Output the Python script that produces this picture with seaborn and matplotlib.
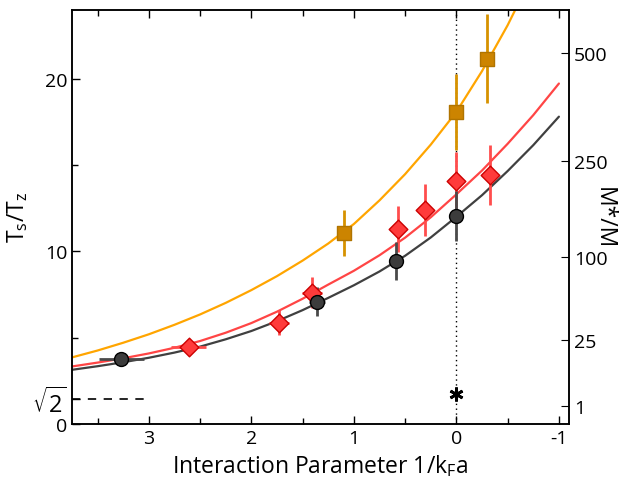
import numpy as np
import matplotlib
matplotlib.use('Agg')
import matplotlib.pyplot as plt
import seaborn as sns

x_gris = [3.27, 1.36, 0.59, 0.0]
y_gris = [3.73, 7.08, 9.44, 12.06]
xerr_gris = [0.22, 0.08, 0.0, 0.0]
yerr_gris = [0.0, 0.84, 1.1, 1.46]

x_rouge = [2.61, 1.73, 1.41, 0.565, 0.305, 0.0, -0.33]
y_rouge = [4.48, 5.87, 7.6, 11.3, 12.37, 14.08, 14.42]
xerr_rouge = [0.17, 0.1, 0.1, 0.0, 0.0, 0.0, 0.0]
yerr_rouge = [0.0, 0.7, 0.9, 1.33, 1.5, 1.65, 1.75]

x_orange = [1.10, 0.0, -0.295]
y_orange = [11.08, 18.08, 21.15]
yerr_orange = [1.34, 2.2, 2.58]

# courbes d'ajustement
x_fit = [3.8, 3.5, 3.25, 3.0, 2.75, 2.5, 2.25, 2.0, 1.75, 1.5, 1.25, 1.0,
         0.75, 0.5, 0.25, 0.0, -0.25, -0.5, -0.75, -1.0]
fit_gris = [3.09, 3.34, 3.57, 3.83, 4.13, 4.475, 4.90, 5.38, 5.95, 6.59, 7.30, 8.03,
            8.83, 9.74, 10.8, 12.0, 13.25, 14.65, 16.15, 17.8]
fit_rouge = [3.28, 3.55, 3.80, 4.08, 4.41, 4.80, 5.28, 5.84, 6.50, 7.25, 8.07, 8.87,
             9.77, 10.79, 11.97, 13.30, 14.68, 16.23, 17.89, 19.72]
x_fit_orange = [3.8, 3.75, 3.5, 3.25, 3.0, 2.75, 2.5, 2.25, 2.0, 1.75, 1.5, 1.25, 1.0,
                0.75, 0.5, 0.25, 0.0, -0.25, -0.5, -0.65]
fit_orange = [3.77, 3.85, 4.25, 4.70, 5.19, 5.74, 6.34, 7.01, 7.75, 8.56, 9.46, 10.45, 11.58,
              12.95, 14.47, 16.18, 18.08, 20.44, 23.1, 24.9]

# axe de droite : M*/M
mm_vals = [1, 25, 100, 250, 500]
x_etoile = [0.0]
y_etoile = [1.75]

sns.set_style('ticks')
plt.rcParams['font.family'] = ['Open Sans', 'DejaVu Sans']
plt.rcParams['mathtext.default'] = 'regular'
plt.rcParams['xtick.direction'] = 'in'
plt.rcParams['ytick.direction'] = 'in'
plt.rcParams['text.color'] = 'black'
plt.rcParams['axes.labelcolor'] = 'black'

fig = plt.figure(figsize=(6.31, 4.85), dpi=100)
ax = fig.add_axes([0.114, 0.124, 0.788, 0.854])

c_gris, c_rouge, c_orange = '#404040', '#ff4545', '#ffa500'

# courbes
sns.lineplot(x=x_fit_orange, y=fit_orange, ax=ax, color=c_orange, lw=1.6, sort=False, estimator=None, zorder=2)
sns.lineplot(x=x_fit, y=fit_rouge, ax=ax, color=c_rouge, lw=1.6, sort=False, estimator=None, zorder=2)
sns.lineplot(x=x_fit, y=fit_gris, ax=ax, color=c_gris, lw=1.6, sort=False, estimator=None, zorder=2)

ax.axvline(0, color='black', ls=(0, (1, 2.5)), lw=1, zorder=1)
ax.plot([3.75, 3.0], [np.sqrt(2)] * 2, color='black', ls=(0, (5, 4.5)), lw=1.2)

# barres d'erreur
ax.errorbar(x_orange, y_orange, yerr=yerr_orange, fmt='none', ecolor='#d69200', elinewidth=2, zorder=3)
ax.errorbar(x_rouge, y_rouge, xerr=xerr_rouge, yerr=yerr_rouge, fmt='none', ecolor='#ff4d4d', elinewidth=2, zorder=3)
ax.errorbar(x_gris, y_gris, xerr=xerr_gris, yerr=yerr_gris, fmt='none', ecolor='#4a4a4a', elinewidth=2, zorder=3)

# points
sns.scatterplot(x=x_orange, y=y_orange, ax=ax, marker='s', s=95, color='#cc8400', edgecolor='#b07400', linewidth=1, zorder=4)
sns.scatterplot(x=x_rouge, y=y_rouge, ax=ax, marker='D', s=90, color='#ff3b3b', edgecolor='#cc0000', linewidth=1, zorder=4)
sns.scatterplot(x=x_gris, y=y_gris, ax=ax, marker='o', s=100, color='#3c3c3c', edgecolor='black', linewidth=1, zorder=4)
ax.plot(x_etoile, y_etoile, marker=(6, 2, 0), ms=10, mew=2, color='black', ls='none', zorder=4)

ax.set_xlim(3.75, -1.1)
ax.set_ylim(0, 24)
ax.set_xticks([3, 2, 1, 0, -1])
ax.set_xticklabels(['3', '2', '1', '0', '-1'])
ax.set_xticks([3.5, 2.5, 1.5, 0.5, -0.5], minor=True)
ax.set_yticks([0, np.sqrt(2), 10, 20])
ax.set_yticklabels(['0', r'$\sqrt{2}$', '10', '20'])
ax.set_yticks([5, 15], minor=True)
ax.tick_params(which='both', top=True, labelsize=14, width=1, colors='black')
ax.tick_params(which='major', length=6)
ax.tick_params(which='minor', length=4)
ax.tick_params(axis='y', right=False)
ax.get_yticklabels()[1].set_fontsize(17)

ax.set_xlabel('Interaction Parameter 1/k$_F$a', fontsize=16.5, labelpad=4)
ax.set_ylabel('T$_s$/T$_z$', fontsize=16.5, labelpad=2)

ax2 = ax.twinx()
ax2.set_ylim(0, 24)
ax2.set_yticks([0.959 * np.sqrt(v) + 0.06 for v in mm_vals])
ax2.set_yticklabels([str(v) for v in mm_vals])
ax2.tick_params(axis='y', direction='in', length=6, labelsize=14, colors='black')
ax2.set_ylabel('M*/M', fontsize=16.5, rotation=270, labelpad=6)

for a in (ax, ax2):
    for s in a.spines.values():
        s.set_visible(True)
        s.set_color('black')
        s.set_linewidth(1.1)

fig.savefig('out.png', dpi=100)
